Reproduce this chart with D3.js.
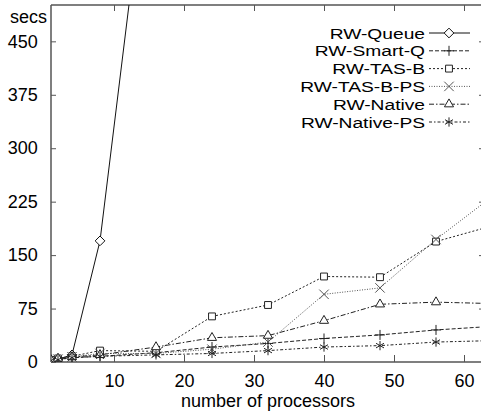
<!DOCTYPE html>
<html>
<head>
<meta charset="utf-8">
<script src="https://cdn.jsdelivr.net/npm/d3@7"></script>
<style>
  body { margin: 0; background: #fff; }
  text { font-family: "Liberation Sans", Arial, sans-serif; fill: #000; }
</style>
</head>
<body>
<div id="chart"></div>
<script>
// processors on the x axis
const procs = [1, 2, 4, 8, 16, 24, 32, 40, 48, 56, 64];

// seconds per series
const rwQueue    = [2, 4, 10, 170, 810];
const rwSmartQ   = [2, 4, 6, 8, 13, 21, 26, 33, 38, 45, 50];
const rwTasB     = [3, 5, 8, 16, 15, 64, 80, 120, 119, 169, 191];
const rwTasBPs   = [2, 4, 7, 12, 12, 18, 28, 95, 104, 172, 232];
const rwNative   = [3, 5, 7, 10, 21, 34, 37, 58, 81, 84, 82];
const rwNativePs = [2, 3, 6, 8, 10, 12, 16, 21, 23, 28, 30];

const seriesNames = ["RW-Queue", "RW-Smart-Q", "RW-TAS-B", "RW-TAS-B-PS", "RW-Native", "RW-Native-PS"];
const yTicks = [0, 75, 150, 225, 300, 375, 450];
const xTicks = [10, 20, 30, 40, 50, 60];

const series = [
  {name: seriesNames[0], values: rwQueue,    marker: "diamond",  dash: null,          color: "#111"},
  {name: seriesNames[1], values: rwSmartQ,   marker: "plus",     dash: "4,2",         color: "#222"},
  {name: seriesNames[2], values: rwTasB,     marker: "square",   dash: "2,2",         color: "#222"},
  {name: seriesNames[3], values: rwTasBPs,   marker: "cross",    dash: "1,1.5",       color: "#555"},
  {name: seriesNames[4], values: rwNative,   marker: "triangle", dash: "5,2,1.5,2",   color: "#222"},
  {name: seriesNames[5], values: rwNativePs, marker: "star",     dash: "3,2,1.5,2",   color: "#222"}
];

const W = 481, H = 414;
const margin = {top: 5, right: -3, bottom: 52, left: 51};
const width = W - margin.left - margin.right,
      height = H - margin.top - margin.bottom;

const svg = d3.select("#chart").append("svg")
    .attr("width", W).attr("height", H);

const g = svg.append("g")
    .attr("transform", `translate(${margin.left}, ${margin.top})`);

const x = d3.scaleLinear().domain([1, 1 + width / 7]).range([0, width]);
const y = d3.scaleLinear().domain([0, 501]).range([height, 0]);

svg.append("defs").append("clipPath").attr("id", "clip")
  .append("rect").attr("x", 0).attr("y", 0).attr("width", width).attr("height", height);

// frame
const axisColor = "#555";
g.append("line").attr("x1", 0).attr("x2", 0).attr("y1", 0).attr("y2", height)
  .attr("stroke", axisColor).attr("stroke-width", 1.5);
g.append("line").attr("x1", 0).attr("x2", width).attr("y1", height).attr("y2", height)
  .attr("stroke", axisColor).attr("stroke-width", 1.5);
g.append("line").attr("x1", 0).attr("x2", width).attr("y1", 0).attr("y2", 0)
  .attr("stroke", axisColor).attr("stroke-width", 1.5);

// y axis (inward ticks, mirrored on the right)
const yAxis = g.append("g").call(d3.axisLeft(y).tickValues(yTicks).tickSize(-5).tickPadding(15));
yAxis.select(".domain").remove();
yAxis.selectAll("line").attr("stroke", axisColor);
yAxis.selectAll("text").attr("font-size", 18).attr("dx", "0.1em");
const yAxisR = g.append("g").attr("transform", `translate(${width},0)`)
  .call(d3.axisRight(y).tickValues(yTicks.slice(1)).tickSize(-5).tickFormat(""));
yAxisR.select(".domain").remove();
yAxisR.selectAll("line").attr("stroke", axisColor);

// x axis (inward ticks, mirrored on top)
const xAxis = g.append("g").attr("transform", `translate(0,${height})`)
  .call(d3.axisBottom(x).tickValues(xTicks).tickSize(-7).tickPadding(12));
xAxis.select(".domain").remove();
xAxis.selectAll("line").attr("stroke", axisColor);
xAxis.selectAll("text").attr("font-size", 18);
const xAxisT = g.append("g")
  .call(d3.axisTop(x).tickValues(xTicks).tickSize(-6).tickFormat(""));
xAxisT.select(".domain").remove();
xAxisT.selectAll("line").attr("stroke", axisColor);

// labels
svg.append("text").attr("x", 47).attr("y", 23).attr("text-anchor", "end")
  .attr("font-size", 18).text("secs");
svg.append("text").attr("x", 268).attr("y", 407).attr("text-anchor", "middle")
  .attr("font-size", 18).text("number of processors");

// markers
const sym = {
  diamond: d3.symbol().type(d3.symbolDiamond2).size(60),
  square: d3.symbol().type(d3.symbolSquare2).size(60),
  cross: d3.symbol().type(d3.symbolX).size(60),
  triangle: d3.symbol().type(d3.symbolTriangle2).size(60),
  star: d3.symbol().type(d3.symbolAsterisk).size(60)
};
function drawMarker(sel, kind, color) {
  if (kind === "plus") {
    sel.append("path").attr("d", "M-5,0H5M0,-5V5").attr("stroke", color).attr("fill", "none");
  } else {
    sel.append("path").attr("d", sym[kind]()).attr("stroke", color)
      .attr("stroke-width", 1).attr("fill", "#fff");
  }
}

const plot = g.append("g").attr("clip-path", "url(#clip)");
const line = d3.line().x(d => x(d[0])).y(d => y(d[1]));

series.forEach(s => {
  const pts = s.values.map((v, i) => [procs[i], v]);
  plot.append("path").datum(pts)
    .attr("d", line)
    .attr("fill", "none")
    .attr("stroke", s.color)
    .attr("stroke-width", 1)
    .attr("stroke-dasharray", s.dash);
});
series.forEach(s => {
  const pts = s.values.map((v, i) => [procs[i], v]);
  plot.selectAll(null).data(pts).enter().append("g")
    .attr("transform", d => `translate(${x(d[0])},${y(d[1])})`)
    .each(function() { drawMarker(d3.select(this), s.marker, s.color); });
});

// legend (wide type, as in the original)
const legend = svg.append("g");
series.forEach((s, i) => {
  const ly = 33 + i * 17.8;
  const row = legend.append("g").attr("transform", `translate(0,${ly})`);
  row.append("text").attr("transform", "translate(425,0) scale(1.24,1)")
    .attr("dy", "0.36em")
    .attr("text-anchor", "end").attr("font-size", 15.5).text(s.name);
  row.append("line").attr("x1", 429).attr("x2", 470).attr("y1", 0).attr("y2", 0)
    .attr("stroke", s.color).attr("stroke-width", 1).attr("stroke-dasharray", s.dash);
  const m = row.append("g").attr("transform", "translate(449,0)");
  drawMarker(m, s.marker, s.color);
});
</script>
</body>
</html>
